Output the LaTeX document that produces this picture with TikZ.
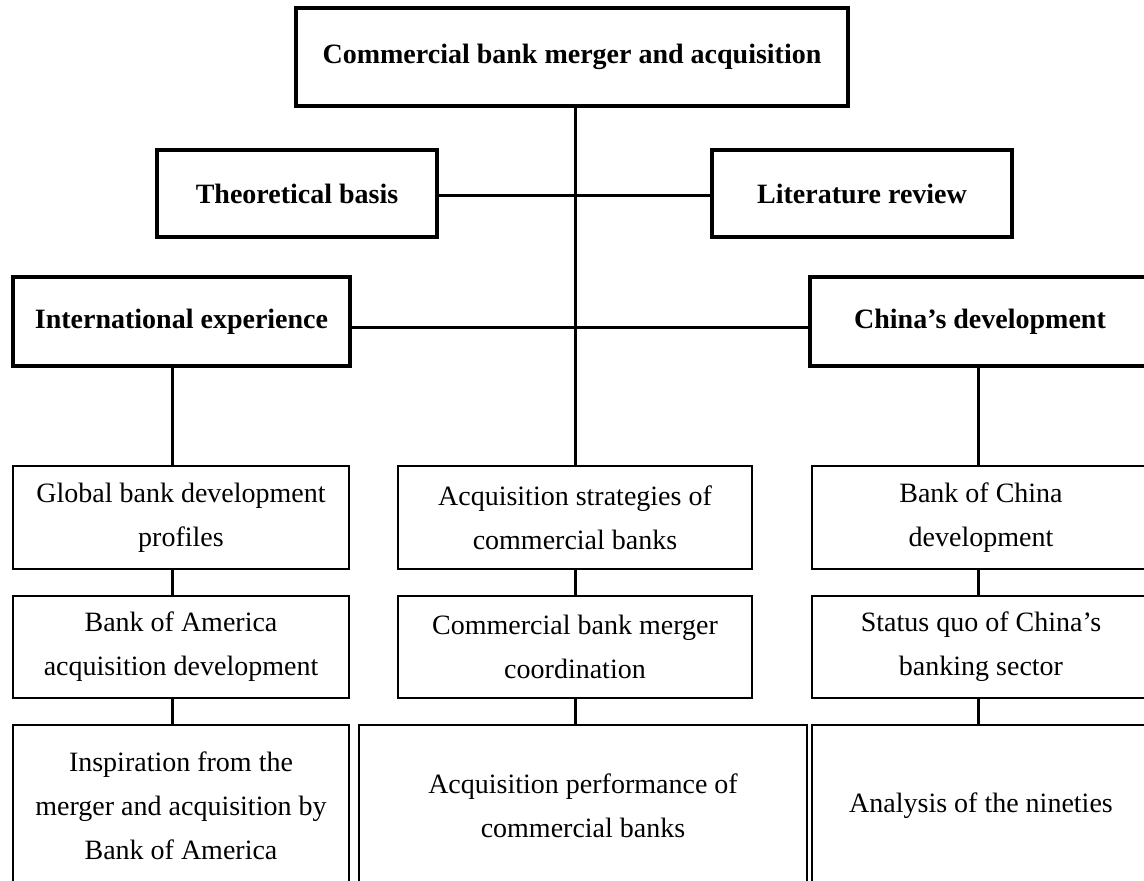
\documentclass[tikz,border=0pt]{standalone}
\usepackage{fontspec}
\setmainfont{Liberation Serif}
\begin{document}
\begin{tikzpicture}[x=1pt,y=-1pt,
  thickbox/.style={draw=black,line width=4.5pt,fill=white,inner sep=0pt,align=center,font=\fontsize{28}{44}\selectfont\bfseries},
  thinbox/.style={draw=black,line width=2.5pt,fill=white,inner sep=0pt,align=center,font=\fontsize{28}{44}\selectfont},
  link/.style={draw=black,line width=3pt}]
\useasboundingbox (0,0) rectangle (1144,881);
\clip (0,0) rectangle (1144,881);
% column coordinates
\coordinate (cL) at (172,0);
\coordinate (cM) at (575,0);
\coordinate (cR) at (978,0);
\coordinate (yTL) at (0,195);
\coordinate (yIC) at (0,327);
% top-level boxes
\node[thickbox,minimum width=552,minimum height=98] (top) at (572,57) {Commercial bank merger and acquisition};
\node[thickbox,minimum width=280,minimum height=87] (theo) at (297,193.5) {Theoretical basis};
\node[thickbox,minimum width=300,minimum height=87] (lit) at (862,193.5) {Literature review};
\node[thickbox,minimum width=337,minimum height=89] (intl) at (181.5,321.5) {International experience};
\node[thickbox,minimum width=340,minimum height=89] (china) at (980,321.5) {China’s development};
% row 1
\node[thinbox,minimum width=336,minimum height=103] (g1) at (181,517.5) {Global bank development\\profiles};
\node[thinbox,minimum width=354,minimum height=103] (m1) at (575,517.5) {Acquisition strategies of\\commercial banks};
\node[thinbox,minimum width=338,minimum height=103] (r1) at (981,517.5) {Bank of China\\development};
% row 2
\node[thinbox,minimum width=336,minimum height=102] (g2) at (181,647) {Bank of America\\acquisition development};
\node[thinbox,minimum width=354,minimum height=102] (m2) at (575,647) {Commercial bank merger\\coordination};
\node[thinbox,minimum width=338,minimum height=102] (r2) at (981,647) {Status quo of China’s\\banking sector};
% row 3
\node[thinbox,minimum width=336,minimum height=162] (g3) at (181,806) {Inspiration from the\\merger and acquisition by\\Bank of America};
\node[thinbox,minimum width=448,minimum height=162] (m3) at (583,806) {Acquisition performance of\\commercial banks};
\node[thinbox,minimum width=338,minimum height=162] (r3) at (981,806) {Analysis of the nineties};
% connectors
\path[link] (top.south -| cM) -- (m1.north -| cM);
\path[link] (theo.east |- yTL) -- (lit.west |- yTL);
\path[link] (intl.east |- yIC) -- (china.west |- yIC);
\path[link] (intl.south -| cL) -- (g1.north -| cL);
\path[link] (g1.south -| cL) -- (g2.north -| cL);
\path[link] (g2.south -| cL) -- (g3.north -| cL);
\path[link] (m1.south -| cM) -- (m2.north -| cM);
\path[link] (m2.south -| cM) -- (m3.north -| cM);
\path[link] (china.south -| cR) -- (r1.north -| cR);
\path[link] (r1.south -| cR) -- (r2.north -| cR);
\path[link] (r2.south -| cR) -- (r3.north -| cR);
\end{tikzpicture}
\end{document}
